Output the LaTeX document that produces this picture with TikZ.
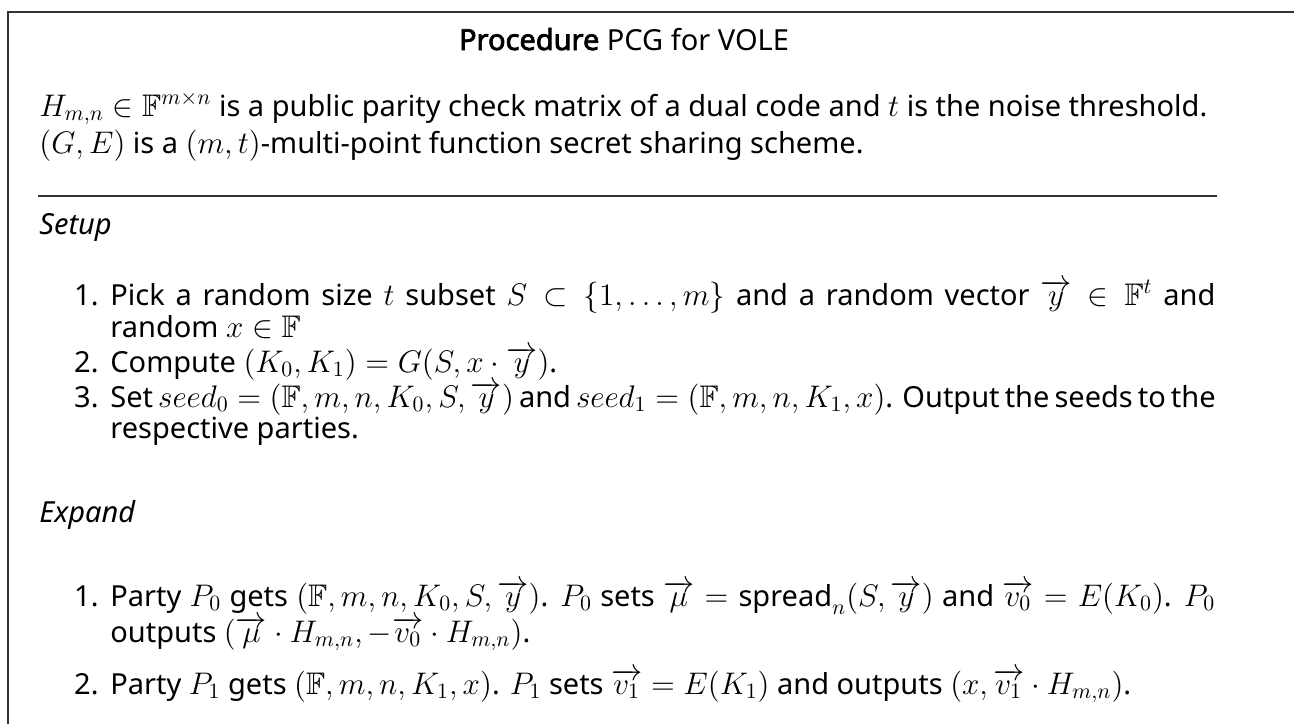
\RequirePackage{fix-cm}
\documentclass[tikz,border=0pt]{standalone}
\usepackage{amsmath,amssymb}
\usepackage{fontspec}
\setmainfont{Noto Sans}
\newfontfamily\headbf{Noto Sans}[FakeBold=2.5]
\newcommand\bodyfont{\fontsize{14.5}{17}\selectfont}
% formulas are set somewhat larger than the running text
\newcommand\m[1]{{\fontsize{15.6}{18}\selectfont$#1$}}
\newcommand\F{\mathbb{F}}
\newcommand\vv[1]{\overrightarrow{#1}}
\newcommand\spreadop{\text{\bodyfont spread}}
\newlength\itemw
\setlength\itemw{552.5pt}
\tikzset{
  txt/.style={anchor=base west, inner sep=0pt, font=\bodyfont},
  num/.style={anchor=base east, inner sep=0pt, font=\bodyfont},
  frame/.style={line width=0.75pt, draw=black!80},
  sep/.style={line width=0.75pt, draw=black!80},
}
\begin{document}
\begin{tikzpicture}[x=0.5pt, y=-0.5pt]
\useasboundingbox (0,0) rectangle (1294,724);

% open frame: top edge and left edge
\coordinate (fbl) at (8,724);
\coordinate (ftl) at (8,12);
\coordinate (ftr) at (1294,12);
\draw[frame] (fbl) -- (ftl) -- (ftr);

% heading
\node[anchor=base, inner sep=0pt, font=\bodyfont] (title) at (624,50)
  {{\headbf Procedure} PCG for VOLE};

% parameters
\node[txt] (p1) at (39,116) {\m{H_{m,n}\in\F^{m\times n}} is a public parity check matrix of a dual code and \m{t} is the noise threshold.};
\node[txt] (p2) at (39,153) {\m{(G,E)} is a \m{(m,t)}-multi-point function secret sharing scheme.};

% separator
\coordinate (sl) at (38,196);
\coordinate (sr) at (1217,196);
\draw[sep] (sl) -- (sr);

% setup phase
\node[txt] (setup) at (39,234) {\itshape Setup};
\node[num] (s1n) at (99,305) {1.};
\node[txt] (s1a) at (110,305) {\makebox[\itemw][s]{Pick a random size \m{t} subset \m{S\subset\{1,\dots,m\}} and a random vector \m{\vv{y}\in\F^t} and}};
\node[txt] (s1b) at (110,337) {random \m{x\in\F}};
\node[num] (s2n) at (99,372) {2.};
\node[txt] (s2) at (110,372) {Compute \m{(K_0,K_1)=G(S,x\cdot\vv{y})}.};
\node[num] (s3n) at (99,407) {3.};
\node[txt] (s3a) at (110,407) {\makebox[\itemw][s]{Set \m{seed_0=(\F,m,n,K_0,S,\vv{y})} and \m{seed_1=(\F,m,n,K_1,x)}. Output the seeds to the}};
\node[txt] (s3b) at (110,438) {respective parties.};

% expansion phase
\node[txt] (expand) at (39,522) {\itshape Expand};
\node[num] (e1n) at (99,606) {1.};
\node[txt] (e1a) at (110,606) {\makebox[\itemw][s]{Party \m{P_0} gets \m{(\F,m,n,K_0,S,\vv{y})}. \m{P_0} sets \m{\vv{\mu}=\spreadop_n(S,\vv{y})} and \m{\vv{v_0}=E(K_0)}. \m{P_0}}};
\node[txt] (e1b) at (110,642) {outputs \m{(\vv{\mu}\cdot H_{m,n},-\vv{v_0}\cdot H_{m,n})}.};
\node[num] (e2n) at (99,694) {2.};
\node[txt] (e2) at (110,694) {Party \m{P_1} gets \m{(\F,m,n,K_1,x)}. \m{P_1} sets \m{\vv{v_1}=E(K_1)} and outputs \m{(x,\vv{v_1}\cdot H_{m,n})}.};
\end{tikzpicture}
\end{document}
